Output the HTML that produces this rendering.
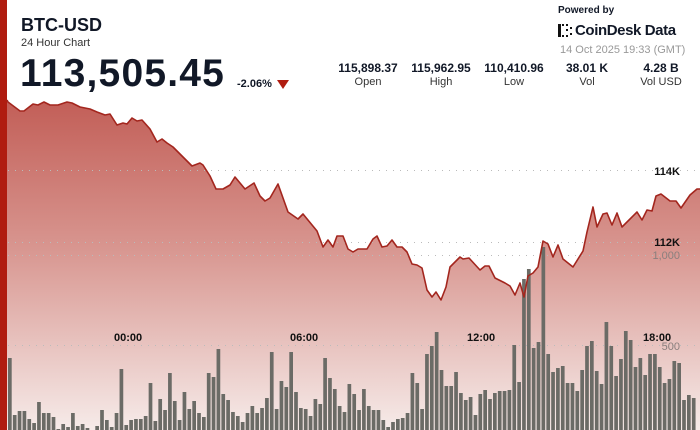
<!DOCTYPE html>
<html><head><meta charset="utf-8"><style>
html,body{margin:0;padding:0;background:#fff;width:700px;height:430px;overflow:hidden;font-family:"Liberation Sans",sans-serif}
.t{position:absolute;white-space:nowrap;color:#111827}
</style></head><body>
<svg id="s" width="700" height="430" style="position:absolute;left:0;top:0">
<defs>
<linearGradient id="g" x1="0" y1="0" x2="0" y2="1">
<stop offset="0" stop-color="#c25e57"/>
<stop offset="0.45" stop-color="#d89690"/>
<stop offset="1" stop-color="#f6ebe9"/>
</linearGradient>
</defs>
<rect x="0" y="0" width="7" height="430" fill="#b01c10"/>
<path fill="url(#g)" d="M7,100 L8,102 20,111 24,111 33,104 38,105 44,102 50,105 58,105 67,102 72,103 80,107 90,109 97,112 105,115 110,114 117,125 123,123 127,124 132,118 137,121 142,120 150,129 157,142 162,139 167,143 173,147 183,157 192,166 200,163 203,165 210,176 216,189 223,189 230,185 235,177 245,189 254,183 260,196 265,201 270,198 278,184 288,212 298,219 303,214 317,231 323,247 328,240 333,247 337,236 343,236 348,249 353,252 358,249 367,249 373,239 377,236 382,247 387,246 392,240 397,247 402,247 407,252 412,264 417,265 422,268 427,290 432,297 436,292 441,300 446,287 450,267 460,257 463,259 469,258 480,270 485,266 489,266 495,278 505,283 510,286 515,295 520,283 524,297 528,276 533,273 538,267 543,241 548,244 553,257 558,245 563,259 573,267 583,251 587,232 593,207 597,227 603,214 607,213 612,225 617,213 622,227 637,212 642,220 647,210 652,211 656,196 661,194 670,201 676,201 681,208 690,195 697,189 700,189 L700,430 L7,430 Z"/>
<g stroke="#bbb" stroke-width="1" stroke-dasharray="1,6">
<line x1="8" y1="170.5" x2="700" y2="170.5"/>
<line x1="8" y1="242.5" x2="700" y2="242.5"/>
<line x1="8" y1="255.5" x2="700" y2="255.5"/>
<line x1="8" y1="345.5" x2="700" y2="345.5"/>
</g>
<g id="bars" fill="#6b6b66"></g>
<path fill="none" stroke="#a3261e" stroke-width="1.6" stroke-linejoin="round" d="M7,100 L8,102 20,111 24,111 33,104 38,105 44,102 50,105 58,105 67,102 72,103 80,107 90,109 97,112 105,115 110,114 117,125 123,123 127,124 132,118 137,121 142,120 150,129 157,142 162,139 167,143 173,147 183,157 192,166 200,163 203,165 210,176 216,189 223,189 230,185 235,177 245,189 254,183 260,196 265,201 270,198 278,184 288,212 298,219 303,214 317,231 323,247 328,240 333,247 337,236 343,236 348,249 353,252 358,249 367,249 373,239 377,236 382,247 387,246 392,240 397,247 402,247 407,252 412,264 417,265 422,268 427,290 432,297 436,292 441,300 446,287 450,267 460,257 463,259 469,258 480,270 485,266 489,266 495,278 505,283 510,286 515,295 520,283 524,297 528,276 533,273 538,267 543,241 548,244 553,257 558,245 563,259 573,267 583,251 587,232 593,207 597,227 603,214 607,213 612,225 617,213 622,227 637,212 642,220 647,210 652,211 656,196 661,194 670,201 676,201 681,208 690,195 697,189 700,189"/>
<g font-family="Liberation Sans,sans-serif" font-weight="bold" font-size="11" fill="#111">
<text x="114" y="341">00:00</text>
<text x="290" y="341">06:00</text>
<text x="467" y="341">12:00</text>
<text x="643" y="341">18:00</text>
<text x="680" y="175" text-anchor="end">114K</text>
<text x="680" y="246" text-anchor="end">112K</text>
</g>
<g font-family="Liberation Sans,sans-serif" font-size="11" fill="#8a7f7d">
<text x="680" y="259" text-anchor="end">1,000</text>
<text x="680" y="350" text-anchor="end">500</text>
</g>
<polygon points="277,80 289,80 283,89" fill="#b01c10"/>
<g fill="#111">
<rect x="558" y="24" width="3" height="13"/>
<rect x="562" y="24" width="2" height="2"/><rect x="566" y="24" width="2" height="2"/>
<rect x="562" y="35" width="2" height="2"/><rect x="566" y="35" width="2" height="2"/>
<rect x="566" y="29" width="2" height="2"/>
<rect x="570" y="27" width="2" height="2"/><rect x="570" y="33" width="2" height="2"/>
</g>
</svg>
<script>
var h=[358,415,411,411,419,423,402,413,413,417,429,424,427,413,426,424,428,430,426,410,420,427,413,369,425,420,419,419,416,383,421,399,410,373,401,420,392,409,401,413,417,373,377,349,394,400,412,416,422,
413,406,413,408,398,352,409,381,387,352,392,408,409,416,399,404,358,378,389,406,412,384,394,410,389,406,410,410,420,427,422,419,418,413,373,383,409,354,346,332,370,386,386,372,393,400,397,
415,394,390,399,393,391,391,390,345,382,279,269,348,342,247,354,372,368,366,383,383,391,370,346,341,371,384,322,346,376,359,331,340,367,358,375,354,354,367,383,379,361,363,400,395,398];
var g=document.getElementById('bars'),s='';
for(var i=0;i<h.length;i++){var x=8+i*4.85;if(x>700)break;s+='<rect x="'+x.toFixed(2)+'" y="'+h[i]+'" width="3.7" height="'+(430-h[i])+'"/>';}
g.innerHTML=s;
</script>
<div class="t" style="left:21px;top:15px;font-size:18px;font-weight:bold">BTC-USD</div>
<div class="t" style="left:21px;top:37px;font-size:11px;color:#333">24 Hour Chart</div>
<div class="t" style="left:20px;top:52px;font-size:39px;font-weight:bold;letter-spacing:1.2px">113,505.45</div>
<div class="t" style="left:237px;top:78px;font-size:11px;font-weight:bold">-2.06%</div>
<div class="t" style="left:330px;top:61px;width:76px;text-align:center;font-size:12px;font-weight:bold">115,898.37</div>
<div class="t" style="left:330px;top:76px;width:76px;text-align:center;font-size:11px;color:#333">Open</div>
<div class="t" style="left:403px;top:61px;width:76px;text-align:center;font-size:12px;font-weight:bold">115,962.95</div>
<div class="t" style="left:403px;top:76px;width:76px;text-align:center;font-size:11px;color:#333">High</div>
<div class="t" style="left:476px;top:61px;width:76px;text-align:center;font-size:12px;font-weight:bold">110,410.96</div>
<div class="t" style="left:476px;top:76px;width:76px;text-align:center;font-size:11px;color:#333">Low</div>
<div class="t" style="left:557px;top:61px;width:60px;text-align:center;font-size:12px;font-weight:bold">38.01 K</div>
<div class="t" style="left:557px;top:76px;width:60px;text-align:center;font-size:11px;color:#333">Vol</div>
<div class="t" style="left:631px;top:61px;width:60px;text-align:center;font-size:12px;font-weight:bold">4.28 B</div>
<div class="t" style="left:631px;top:76px;width:60px;text-align:center;font-size:11px;color:#333">Vol USD</div>
<div class="t" style="left:558px;top:5px;font-size:10px;font-weight:bold">Powered by</div>
<div class="t" style="left:575px;top:22px;font-size:15px;font-weight:bold;letter-spacing:-0.4px">CoinDesk Data</div>
<div class="t" style="left:560px;top:44px;font-size:11px;color:#999">14 Oct 2025 19:33 (GMT)</div>
</body></html>
